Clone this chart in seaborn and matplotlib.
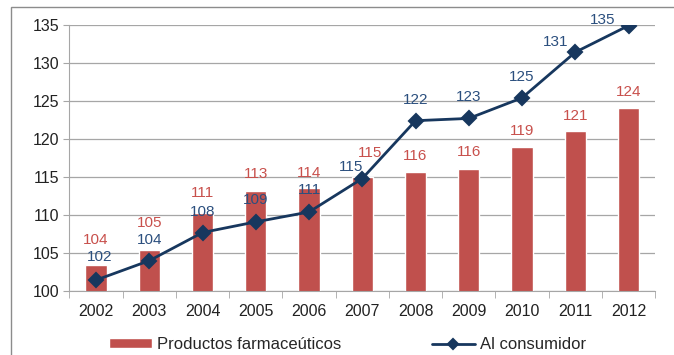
import matplotlib
matplotlib.use("Agg")
import matplotlib.pyplot as plt
import seaborn as sns
import numpy as np
import pandas as pd
from matplotlib.patches import Rectangle

sns.set_style("white")
plt.rcParams['font.family'] = ['Liberation Sans', 'DejaVu Sans']

years = ["2002", "2003", "2004", "2005", "2006", "2007", "2008", "2009", "2010", "2011", "2012"]
farma = [103.4, 105.4, 110.3, 113.1, 113.5, 115.0, 115.6, 116.05, 118.9, 121.1, 124.1]
farma_labels = ["104", "105", "111", "113", "114", "115", "116", "116", "119", "121", "124"]
consumidor = [101.45, 104.0, 107.7, 109.1, 110.4, 114.8, 122.4, 122.7, 125.4, 131.4, 134.9]
consumidor_labels = ["102", "104", "108", "109", "111", "115", "122", "123", "125", "131", "135"]

# label placement (pixels: dx, dy of label centre from the mark)
farma_off = [(0, 25), (0, 27), (0, 20), (0, 17), (0, 15), (8, 24),
             (0, 16), (0, 17), (0, 16), (0, 15), (0, 16)]
cons_off = [(4, 23), (0, 21), (0, 21), (0, 22), (0, 22), (-11, 12),
            (0, 21), (0, 21), (0, 21), (-20, 10), (-26, 6)]

df = pd.DataFrame({"Año": years, "farma": farma, "consumidor": consumidor})

bar_color = "#C0504D"
line_color = "#17375E"

fig = plt.figure(figsize=(6.74, 3.55), dpi=100)
ax = fig.add_axes([0.103, 0.180, 0.869, 0.750])

sns.barplot(data=df, x="Año", y="farma", color=bar_color, width=0.4,
            saturation=1, label="Productos farmaceúticos", ax=ax, zorder=2)
sns.pointplot(data=df, x="Año", y="consumidor", color=line_color, markers="D",
              markersize=7, linewidth=2.0, label="Al consumidor", ax=ax, zorder=3)

px = 72 / 100
for i, (v, t, (dx, dy)) in enumerate(zip(farma, farma_labels, farma_off)):
    ax.annotate(t, (i, v), xytext=(dx * px, dy * px), textcoords="offset points",
                ha="center", va="center", color="#C8504C", fontsize=11)
for i, (v, t, (dx, dy)) in enumerate(zip(consumidor, consumidor_labels, cons_off)):
    ax.annotate(t, (i, v), xytext=(dx * px, dy * px), textcoords="offset points",
                ha="center", va="center", color="#2B4F7E", fontsize=11, zorder=4)

ax.set_ylim(100, 135)
ax.set_xlim(-0.5, 10.5)
ax.set_yticks(np.arange(100, 136, 5))
ax.yaxis.grid(True, color="#A6A6A6", linewidth=0.9)
ax.set_axisbelow(True)
ax.set_xlabel("")
ax.set_ylabel("")
for s in ["top", "right"]:
    ax.spines[s].set_visible(False)
for s in ["left", "bottom"]:
    ax.spines[s].set_color("#A6A6A6")
ax.tick_params(axis="both", labelsize=11.5, colors="#222222")
ax.tick_params(axis="y", left=True, length=4, color="#A6A6A6", pad=3)
ax.tick_params(axis="x", bottom=False, pad=6)
ax.set_xticks(np.arange(-0.5, 11, 1), minor=True)
ax.tick_params(axis="x", which="minor", bottom=True, length=5, color="#A6A6A6")

handles, labels = ax.get_legend_handles_labels()
order = [labels.index("Productos farmaceúticos"), labels.index("Al consumidor")]
leg = ax.legend([handles[k] for k in order], [labels[k] for k in order],
                loc="center", bbox_to_anchor=(0.475, -0.2), ncol=2, frameon=False,
                fontsize=12, handlelength=2.6, handleheight=0.5,
                columnspacing=5.4, handletextpad=0.3)
for h in leg.legend_handles:
    if hasattr(h, "set_markersize"):
        h.set_markersize(5)

fig.patches.append(Rectangle((11 / 674, -0.1), 1.2, 1.1 - 7 / 355,
                             transform=fig.transFigure, fill=False,
                             edgecolor="#8C8C8C", linewidth=1))

fig.savefig("out.png", dpi=100)
